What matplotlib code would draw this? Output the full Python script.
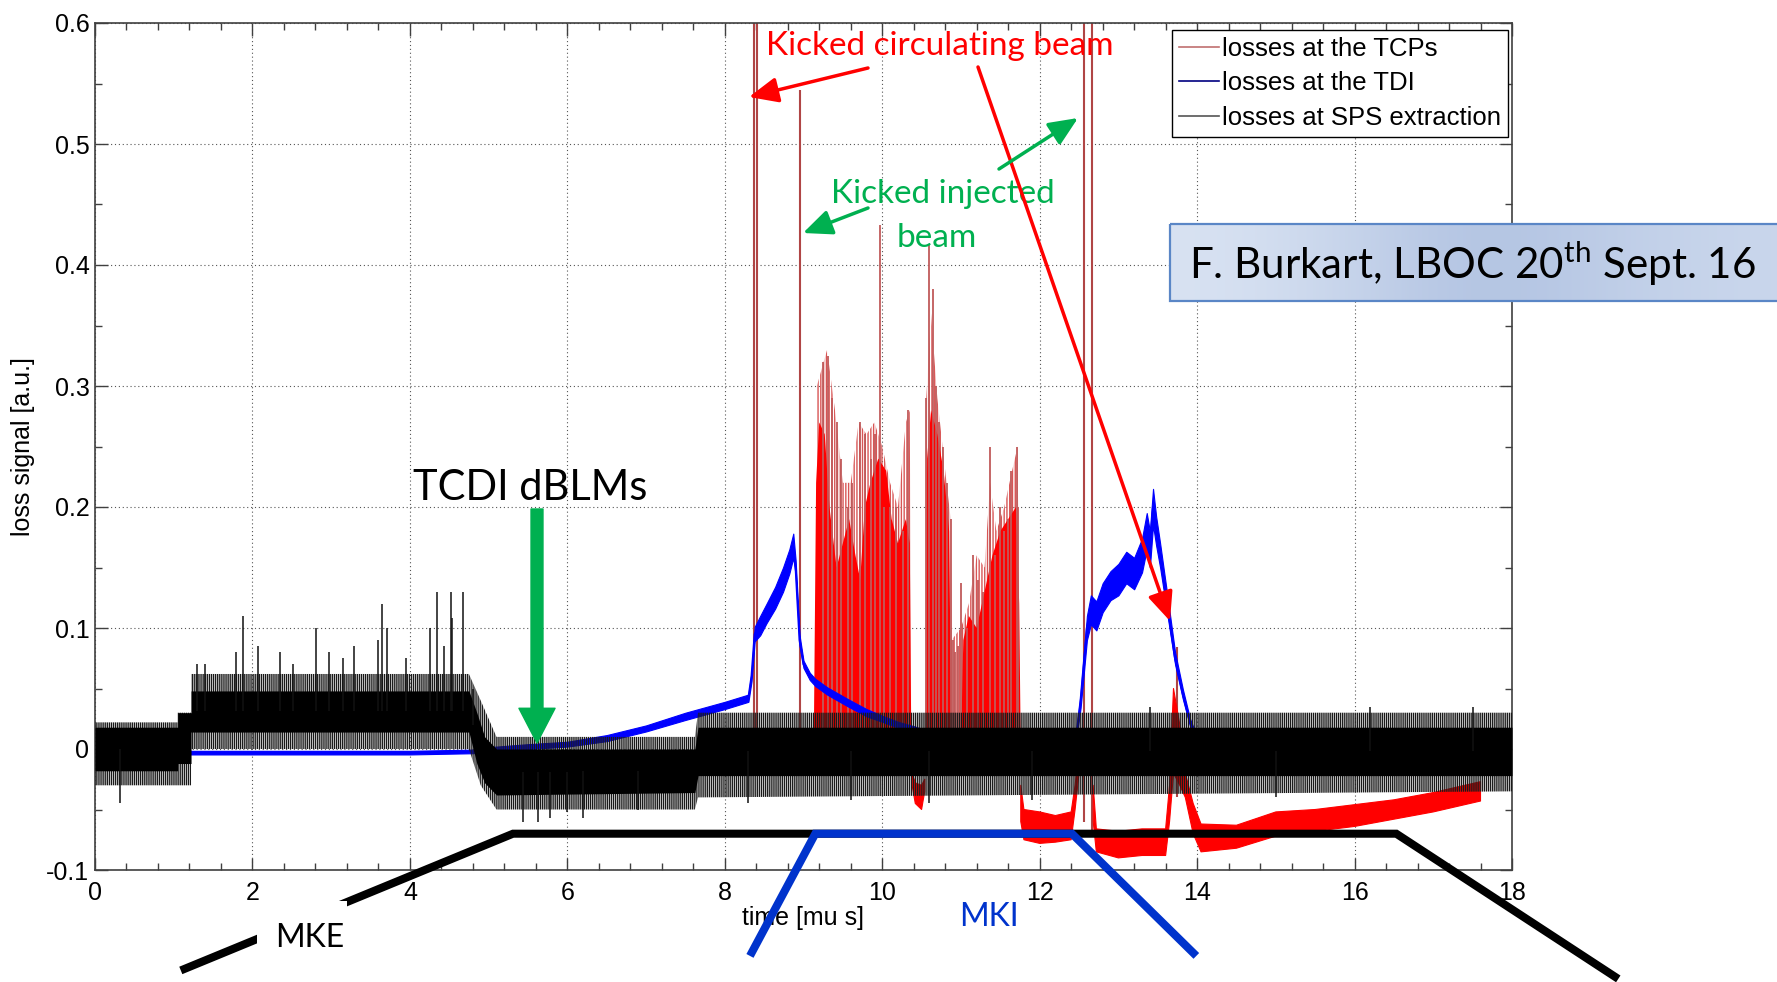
import numpy as np
import matplotlib
matplotlib.use('Agg')
import matplotlib.pyplot as plt
from matplotlib.lines import Line2D
from matplotlib.patches import Rectangle
from matplotlib.colors import LinearSegmentedColormap
from matplotlib.ticker import MultipleLocator

plt.rcParams['font.family'] = ['Liberation Sans', 'DejaVu Sans']
plt.rcParams['mathtext.fontset'] = 'custom'
plt.rcParams['mathtext.rm'] = 'Lato'
plt.rcParams['hatch.linewidth'] = 1.0

W, H = 1777, 982
nan = np.nan

### DATA ###
# losses at SPS extraction (black): dense core band, sparse band, isolated spikes
sps_t = [0.0, 1.05, 1.05, 1.22, 1.22, 4.75, 4.85, 4.95, 5.1, 7.62, 7.66, 18.0]
sps_hi = [0.018, 0.018, 0.03, 0.03, 0.048, 0.048, 0.03, 0.01, 0.0, 0.0, 0.018, 0.018]
sps_lo = [-0.018, -0.018, -0.012, -0.012, 0.014, 0.014, -0.012, -0.028, -0.038, -0.036, -0.022, -0.022]
sps_sp_t = [0.0, 1.05, 1.05, 1.22, 1.22, 4.75, 4.9, 5.1, 7.62, 7.66, 18.0]
sps_sp_hi = [0.022, 0.022, 0.03, 0.03, 0.062, 0.062, 0.04, 0.01, 0.01, 0.03, 0.03]
sps_sp_lo = [-0.03, -0.03, -0.03, -0.03, 0.0, 0.0, -0.03, -0.05, -0.05, -0.04, -0.035]
sps_spk_t = [0.32, 1.29, 1.40, 1.79, 1.88, 2.07, 2.35, 2.52, 2.81, 2.97, 3.15, 3.29, 3.59,
             3.65, 3.71, 3.95, 4.26, 4.34, 4.43, 4.52, 4.54, 4.67, 4.8, 5.44, 5.63, 5.78,
             6.0, 6.2, 6.9, 8.3, 9.6, 10.6, 11.9, 13.4, 15.0, 16.2, 17.5]
sps_spk_v = [-0.045, 0.07, 0.07, 0.08, 0.11, 0.085, 0.08, 0.07, 0.10, 0.08, 0.075, 0.085, 0.09,
             0.12, 0.10, 0.075, 0.10, 0.13, 0.085, 0.13, 0.108, 0.13, 0.05, -0.06, -0.06, -0.057,
             -0.052, -0.057, -0.05, -0.045, -0.042, -0.045, -0.042, 0.035, -0.04, 0.035, 0.035]

# losses at the TDI (blue): centre line and half width of the noise
tdi_t = [1.05, 2.0, 3.0, 4.0, 4.8,
         5.0, 5.5, 6.0, 6.5, 7.0, 7.5, 8.0, 8.3,
         8.34, 8.38, 8.45, 8.53, 8.64, 8.74, 8.82, 8.87,
         8.9, 8.95, 9.0, 9.08, 9.15, 9.3, 9.57, 9.8, 10.0, 10.2, 10.42, 10.7, 11.0, 11.5,
         12.45, 12.52, 12.6, 12.65, 12.72, 12.8, 12.9, 13.0, 13.1, 13.2, 13.3, 13.36, 13.4, 13.44, 13.48, 13.53,
         13.62, 13.72, 13.82, 13.91, 14.0, 14.1]
tdi_v = [-0.003, -0.003, -0.003, -0.003, -0.002,
         0.0, 0.002, 0.004, 0.009, 0.017, 0.027, 0.036, 0.042,
         0.06, 0.095, 0.102, 0.112, 0.125, 0.14, 0.155, 0.168,
         0.15, 0.09, 0.07, 0.06, 0.055, 0.048, 0.038, 0.03, 0.025, 0.02, 0.016, 0.01, 0.005, 0.002,
         0.003, 0.04, 0.1, 0.115, 0.11, 0.125, 0.135, 0.14, 0.15, 0.145, 0.16, 0.18, 0.165, 0.2, 0.18, 0.16,
         0.12, 0.075, 0.045, 0.022, 0.008, 0.003]
tdi_hw = [0.0015, 0.0015, 0.0015, 0.0015, 0.0015,
          0.0015, 0.002, 0.002, 0.0025, 0.0025, 0.003, 0.003, 0.003,
          0.004, 0.006, 0.008, 0.008, 0.009, 0.01, 0.01, 0.01,
          0.006, 0.004, 0.003, 0.003, 0.003, 0.003, 0.003, 0.003, 0.0025, 0.0025, 0.0025, 0.002, 0.002, 0.002,
          0.002, 0.006, 0.01, 0.012, 0.012, 0.012, 0.012, 0.013, 0.013, 0.013, 0.014, 0.015, 0.015, 0.015, 0.012, 0.01,
          0.008, 0.005, 0.004, 0.003, 0.002, 0.002]

# losses at the TCPs (red): solid bursts, spike envelope, tall spikes, burst spikes, negative offset band
tcp_b_t = [7.64, 7.66, 8.28, 8.3, nan,
           9.13, 9.16, 9.2, 9.27, 9.33, 9.42, 9.5, 9.58, 9.66, 9.72, 9.78, 9.85, 9.95, 10.05, 10.12, 10.2, 10.3, 10.35, 10.37, nan,
           10.55, 10.57, 10.62, 10.7, 10.78, 10.85, 10.88, nan,
           11.0, 11.03, 11.1, 11.2, 11.3, 11.4, 11.5, 11.6, 11.7, 11.74, 11.76]
tcp_b_v = [0.0, 0.011, 0.011, 0.0, nan,
           0.0, 0.22, 0.27, 0.26, 0.2, 0.15, 0.17, 0.19, 0.16, 0.14, 0.2, 0.22, 0.24, 0.23, 0.19, 0.17, 0.19, 0.17, 0.0, nan,
           0.0, 0.24, 0.28, 0.26, 0.23, 0.18, 0.0, nan,
           0.0, 0.09, 0.11, 0.1, 0.13, 0.16, 0.18, 0.19, 0.2, 0.12, 0.0]
tcp_env_t = [9.15, 9.17, 9.3, 9.4, 9.5, 9.6, 9.7, 9.8, 9.9, 10.0, 10.1, 10.2, 10.3, 10.35, 10.37, nan,
             10.55, 10.56, 10.62, 10.7, 10.8, 10.87, 10.88, 11.0, 11.1, 11.2, 11.3, 11.37, 11.45, 11.55, 11.65, 11.72, 11.75]
tcp_env_v = [0.0, 0.3, 0.33, 0.28, 0.22, 0.22, 0.27, 0.26, 0.27, 0.25, 0.22, 0.2, 0.27, 0.28, 0.0, nan,
             0.0, 0.29, 0.36, 0.29, 0.23, 0.19, 0.09, 0.1, 0.12, 0.16, 0.15, 0.22, 0.18, 0.2, 0.23, 0.25, 0.0]
tcp_tall_t = [8.37, 8.41, 8.96, 12.56, 12.66, 13.74]
tcp_tall_top = [0.65, 0.65, 0.545, 0.65, 0.65, 0.084]
tcp_tall_bot = [-0.015, -0.02, -0.02, -0.06, -0.07, -0.04]
tcp_spk_t = [9.25, 9.31, 9.36, 9.42, 9.48, 9.56, 9.62, 9.72, 9.78, 9.86, 9.91, 9.97, 10.02, 10.1, 10.18, 10.26, 10.33,
             10.56, 10.6, 10.65, 10.68, 10.72, 10.77, 10.82, 10.87, 10.9, 10.93, 10.96, 11.0,
             11.08, 11.15, 11.22, 11.28, 11.37, 11.43, 11.49, 11.55, 11.6, 11.64, 11.71, 11.73]
tcp_spk_v = [0.32, 0.325, 0.29, 0.27, 0.24, 0.2, 0.22, 0.27, 0.26, 0.24, 0.26, 0.433, 0.2, 0.2, 0.2, 0.18, 0.28,
             0.29, 0.417, 0.38, 0.3, 0.27, 0.25, 0.22, 0.19, 0.09, 0.08, 0.085, 0.137,
             0.1, 0.16, 0.14, 0.13, 0.25, 0.16, 0.2, 0.18, 0.19, 0.23, 0.25, 0.2]
tcp_neg_t = [10.38, 10.42, 10.5, 10.54, nan,
             11.76, 11.8, 12.0, 12.2, 12.4, 12.45, 12.5, nan,
             12.68, 12.72, 13.0, 13.3, 13.6, 13.65, 13.7, 13.78, 13.85, 13.95, 14.05, 14.5, 15.0, 15.5, 16.0, 16.5, 17.0, 17.6]
tcp_neg_hi = [-0.02, -0.028, -0.03, -0.025, nan,
              -0.03, -0.05, -0.052, -0.055, -0.052, -0.03, 0.0, nan,
              -0.03, -0.066, -0.068, -0.066, -0.066, -0.03, 0.05, 0.02, -0.02, -0.045, -0.062, -0.063, -0.052, -0.05, -0.046, -0.042, -0.036, -0.027]
tcp_neg_lo = [-0.03, -0.045, -0.05, -0.035, nan,
              -0.06, -0.075, -0.078, -0.077, -0.075, -0.05, -0.02, nan,
              -0.06, -0.085, -0.09, -0.088, -0.088, -0.06, -0.02, -0.03, -0.04, -0.07, -0.085, -0.082, -0.072, -0.068, -0.064, -0.058, -0.052, -0.043]

# kicker waveform sketches (time, signal units)
mke_t = [1.09, 5.31, 16.53, 19.35]
mke_v = [-0.183, -0.07, -0.07, -0.19]
mki_t = [8.32, 9.15, 12.41, 13.99]
mki_v = [-0.171, -0.07, -0.07, -0.171]

xtick_vals = [0, 2, 4, 6, 8, 10, 12, 14, 16, 18]
ytick_vals = [-0.1, 0, 0.1, 0.2, 0.3, 0.4, 0.5, 0.6]
ytick_labels = ['-0.1', '0', '0.1', '0.2', '0.3', '0.4', '0.5', '0.6']
legend_labels = ['losses at the TCPs', 'losses at the TDI', 'losses at SPS extraction']

### FIGURE ###
fig = plt.figure(figsize=(W / 100, H / 100), dpi=100)
ax = fig.add_axes([95 / W, 1 - 870 / H, (1512 - 95) / W, (870 - 23) / H])

# TCPs
ax.fill_between(tcp_env_t, 0, tcp_env_v, facecolor='none', edgecolor='#d85555',
                hatch='||||||', lw=0, zorder=2)
ax.fill_between(tcp_b_t, 0, tcp_b_v, color='red', lw=0, zorder=2)
ax.vlines(tcp_spk_t, 0, tcp_spk_v, color='#c05a5a', lw=1.3, zorder=2)
ax.vlines(tcp_tall_t, tcp_tall_bot, tcp_tall_top, color='#b04545', lw=1.5, zorder=2)
ax.fill_between(tcp_neg_t, tcp_neg_lo, tcp_neg_hi, color='red', lw=0.8, zorder=2)

# TDI
tv = np.array(tdi_v)
hw = np.array(tdi_hw)
ax.fill_between(tdi_t, tv - hw, tv + hw, color='blue', lw=0.8, zorder=3)
ax.plot(tdi_t, tdi_v, color='blue', lw=1.5, zorder=3)

# SPS extraction
ax.fill_between(sps_sp_t, sps_sp_lo, sps_sp_hi, facecolor='none', edgecolor='#1a1a1a',
                hatch='||||||||', lw=0, zorder=4)
ax.fill_between(sps_t, sps_lo, sps_hi, color='black', lw=0, zorder=4)
mid = (np.array(sps_hi) + np.array(sps_lo)) / 2
spk_base = np.interp(sps_spk_t, sps_t, mid)
ax.vlines(sps_spk_t, spk_base, sps_spk_v, color='#111111', lw=1.1, zorder=4)

ax.set_xlim(0, 18)
ax.set_ylim(-0.1, 0.6)
ax.set_xticks(xtick_vals)
ax.set_xticklabels([str(v) for v in xtick_vals])
ax.set_yticks(ytick_vals)
ax.set_yticklabels(ytick_labels)
ax.xaxis.set_minor_locator(MultipleLocator(0.4))
ax.yaxis.set_minor_locator(MultipleLocator(0.05))
ax.tick_params(which='both', direction='in', top=True, right=True, colors='#404040',
               labelcolor='black', labelsize=18)
ax.tick_params(which='major', length=9, width=1)
ax.tick_params(which='minor', length=5, width=1)
ax.tick_params(axis='x', pad=8)
ax.tick_params(axis='y', pad=4)
for s in ax.spines.values():
    s.set_color('#404040')
    s.set_linewidth(1.2)
ax.grid(True, which='major', ls=(0, (1, 2.5)), lw=0.8, color='#555555')
ax.set_axisbelow(True)

ax.set_xlabel('time [mu s]', fontsize=18)
ax.set_ylabel('loss signal [a.u.]', fontsize=18)
ax.xaxis.set_label_coords(0.5, -0.042)
ax.yaxis.set_label_coords(-0.042, 0.5)

handles = [Line2D([], [], color='#c07070', lw=1.2),
           Line2D([], [], color='#000080', lw=1.2),
           Line2D([], [], color='#555555', lw=1.2)]
leg = ax.legend(handles, legend_labels, loc='upper left', bbox_to_anchor=(1172 / W, 1 - 30 / H),
                bbox_transform=fig.transFigure, fontsize=18.5, frameon=True, fancybox=False,
                edgecolor='black', framealpha=1, borderaxespad=0, borderpad=0.28,
                handlelength=1.55, handletextpad=0.1, labelspacing=0.4)
leg.get_frame().set_linewidth(1.0)
leg.set_zorder(6)

# kicker waveforms
ax.plot(mke_t, mke_v, color='black', lw=5.8, clip_on=False, zorder=8,
        solid_capstyle='butt', solid_joinstyle='miter')
ax.plot(mki_t, mki_v, color='#0033cc', lw=5.8, clip_on=False, zorder=9,
        solid_capstyle='butt', solid_joinstyle='miter')
ax.text(11.36, -0.139, 'MKI', fontsize=23, family='Lato', color='#0033cc', ha='center',
        va='center', zorder=10, clip_on=False)

### ANNOTATIONS (figure pixels) ###
ov = fig.add_axes([0, 0, 1, 1], zorder=10)
ov.patch.set_visible(False)
ov.axis('off')

grad = np.array([[0.0, 0.45, 1.0, 0.6, 0.35]])
cmap = LinearSegmentedColormap.from_list('box', ['#d8e2f2', '#afc1e1'])
ov.imshow(grad, extent=(1170, 1800, 301, 224), aspect='auto', cmap=cmap,
          interpolation='bicubic', zorder=1)
ov.add_patch(Rectangle((1170, 224), 640, 77, fill=False, ec='#5a86c6', lw=1.6, zorder=2))
ov.set_xlim(0, W)
ov.set_ylim(H, 0)
ov.text(1189, 279, r'F. Burkart, LBOC 20$^{\mathrm{th}}$ Sept. 16', fontsize=30.3, family='Lato',
        ha='left', va='baseline', zorder=3)

# MKE label on a white box that hides the kicker line behind it
ov.add_patch(Rectangle((257, 901), 90, 50, fc='white', ec='none', zorder=1))
ov.text(310, 947, 'MKE', fontsize=23, family='Lato', ha='center', va='baseline', zorder=2)

ov.text(940, 55, 'Kicked circulating beam', fontsize=24, family='Lato', color='red',
        ha='center', va='baseline')
ov.text(943, 203, 'Kicked injected', fontsize=24, family='Lato', color='#00b050',
        ha='center', va='baseline')
ov.text(937, 247, 'beam', fontsize=24, family='Lato', color='#00b050', ha='center', va='baseline')
ov.text(530, 500, 'TCDI dBLMs', fontsize=30, family='Lato', ha='center', va='baseline')

red_ap = dict(arrowstyle='-|>,head_length=0.8,head_width=0.35', color='red', lw=2.5,
              mutation_scale=22, shrinkA=0, shrinkB=0)
ov.annotate('', xy=(749, 97), xytext=(868, 68), arrowprops=red_ap)
ov.annotate('', xy=(1170, 621), xytext=(978, 67), arrowprops=red_ap)
green_ap = dict(arrowstyle='-|>,head_length=0.8,head_width=0.35', color='#00b050', lw=2.5,
                mutation_scale=22, shrinkA=0, shrinkB=0)
ov.annotate('', xy=(803, 233), xytext=(868, 208), arrowprops=green_ap)
ov.annotate('', xy=(1078, 118), xytext=(999, 169), arrowprops=green_ap)
ov.annotate('', xy=(537, 743), xytext=(537, 509),
            arrowprops=dict(width=8.6, headwidth=26, headlength=25, color='#00b050', shrink=0))

fig.savefig('out.png', dpi=100)
